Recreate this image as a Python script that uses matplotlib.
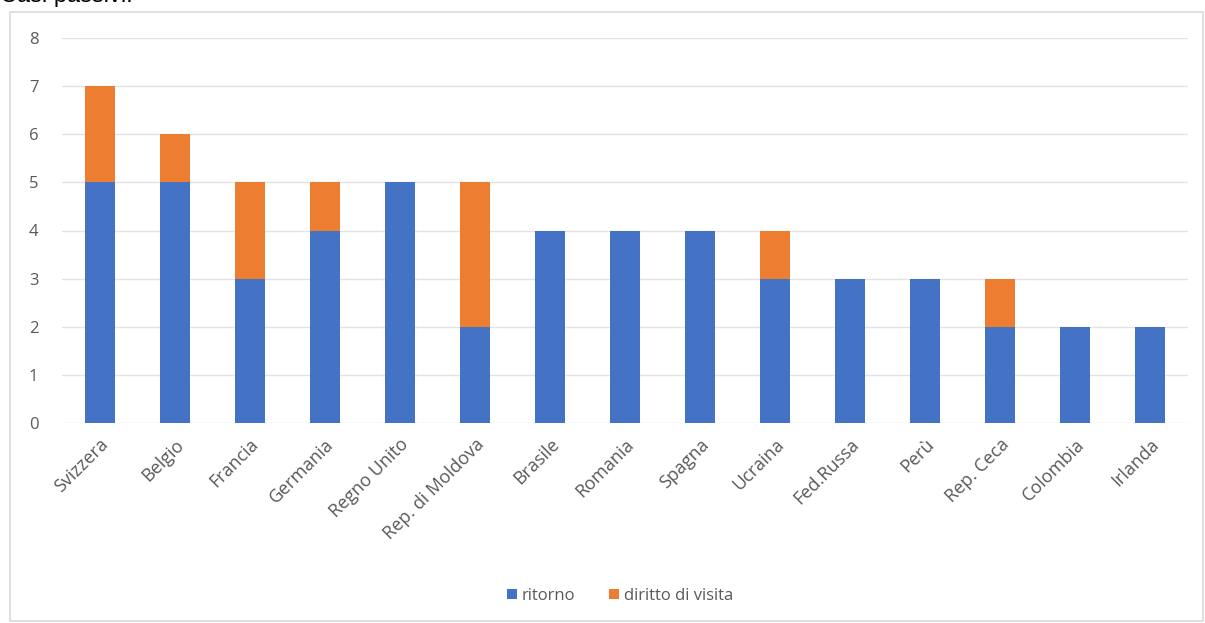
import matplotlib
matplotlib.use("Agg")
import matplotlib.pyplot as plt
from matplotlib.patches import Rectangle

countries = ["Svizzera", "Belgio", "Francia", "Germania", "Regno Unito", "Rep. di Moldova",
             "Brasile", "Romania", "Spagna", "Ucraina", "Fed.Russa", "Perù", "Rep. Ceca",
             "Colombia", "Irlanda"]
ritorno = [5, 5, 3, 4, 5, 2, 4, 4, 4, 3, 3, 3, 2, 2, 2]
diritto_visita = [2, 1, 2, 1, 0, 3, 0, 0, 0, 1, 0, 0, 1, 0, 0]
yticks = list(range(0, 9))

plt.rcParams['font.family'] = ['Open Sans', 'DejaVu Sans']

fig = plt.figure(figsize=(12.05, 6.23), dpi=100)
fig.patch.set_facecolor("white")

# outer chart border
fig.patches.append(Rectangle((10/1205, 2/623), 1193/1205, 609/623, transform=fig.transFigure,
                             fill=False, edgecolor="#d9d9d9", linewidth=1.2))

fig.text(0.0, 1.0 + 0.006, "Casi passivi:", fontsize=17, ha="left", va="center",
         family=["Liberation Sans", "DejaVu Sans"], color="black")

ax = fig.add_axes([62/1205, 1 - 423/623, (1188-62)/1205, (423-38)/623])
x = list(range(len(countries)))
blue = "#4472C4"
orange = "#ED7D31"
ax.bar(x, ritorno, width=0.4, color=blue, label="ritorno", zorder=3)
ax.bar(x, diritto_visita, width=0.4, bottom=ritorno, color=orange, label="diritto di visita", zorder=3)

ax.set_xlim(-0.5, len(countries) - 0.5)
ax.set_ylim(0, 8)
ax.set_yticks(yticks)
ax.set_yticklabels([str(v) for v in yticks], fontsize=12, color="#595959")
ax.set_xticks(x)
ax.set_xticklabels(countries, rotation=45, ha="right", rotation_mode="anchor",
                   fontsize=13, color="#595959")
ax.tick_params(axis="x", length=0, pad=9)
ax.tick_params(axis="y", length=0, pad=17)
ax.grid(axis="y", color="#e3e3e3", linewidth=1, zorder=0)
for s in ax.spines.values():
    s.set_visible(False)

leg = fig.legend(loc="center", bbox_to_anchor=(620/1205, 1 - 596/623), ncol=2, frameon=False,
                 fontsize=12, handlelength=0.6, handleheight=0.6, handletextpad=0.3,
                 columnspacing=2.0)
for t in leg.get_texts():
    t.set_color("#595959")

fig.savefig("out.png", dpi=100, facecolor="white")
